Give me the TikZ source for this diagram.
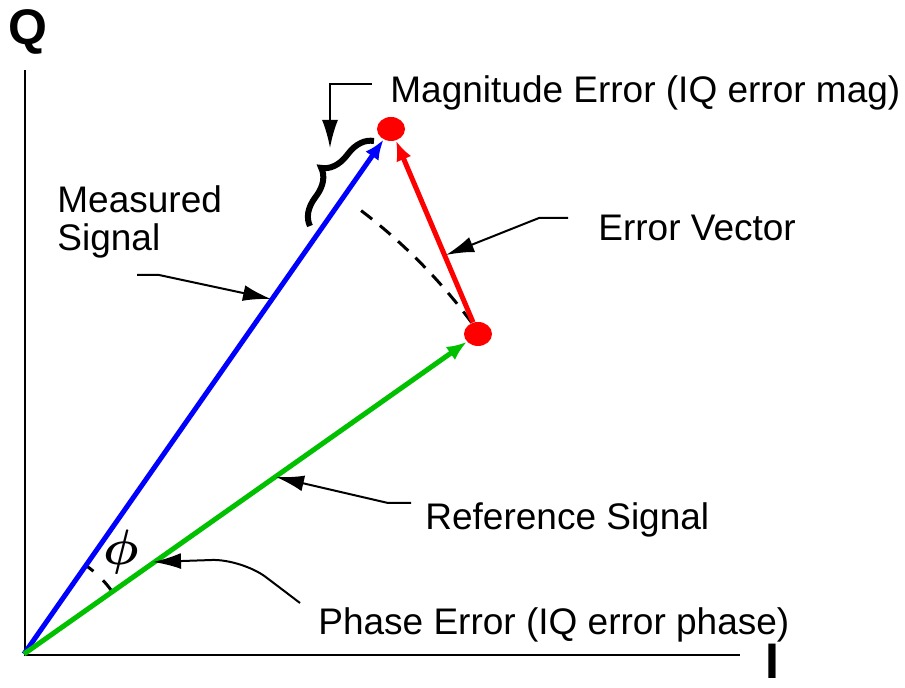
\documentclass[tikz,border=0pt]{standalone}
\usepackage{bm}
\usepackage{fontspec}
\setmainfont{Liberation Sans}
\usetikzlibrary{arrows.meta,shapes.geometric,decorations.pathreplacing}
\definecolor{vecblue}{HTML}{0000FF}
\definecolor{vecgreen}{HTML}{00C000}
\definecolor{vecred}{HTML}{FF0000}

\begin{document}
\begin{tikzpicture}[
  x=0.5pt,y=0.5pt,
  font=\fontsize{18.5pt}{19pt}\selectfont,
  txt/.style={inner sep=0pt,anchor=base west},
  axislabel/.style={inner sep=0pt,anchor=base,font=\fontsize{25pt}{25pt}\selectfont\bfseries},
  dot/.style={ellipse,fill=vecred,inner sep=0pt,minimum width=14pt,minimum height=12pt},
  vec/.style={-{Latex[length=10pt,width=8pt]},line width=2.5pt},
  lead/.style={-{Latex[length=14pt,width=8pt]},line width=1pt},
  axis/.style={line width=1pt},
  tick/.style={line width=1.5pt}
]
\useasboundingbox (-24,-34) rectangle (881,654);

\coordinate (O) at (0,0);
\coordinate (qtop) at (1,584);
\coordinate (corner) at (1,-1);
\coordinate (iend) at (716,-1);
\node[dot] (meas) at (367,525) {};
\node[dot] (ref) at (454,320) {};

\node[axislabel] (qlab) at (4,609) {Q};
\node[axislabel] (ilab) at (748,-25) {I};
\draw[axis] (qtop) -- (corner) -- (iend);

\draw[tick,dash pattern=on 7pt off 5pt] (O) ++(36.5:557) arc[start angle=36.5,end angle=53.5,radius=557];
\draw[tick] (O) ++(36:108) arc[start angle=36,end angle=43,radius=108];
\draw[tick] (O) ++(50:108) arc[start angle=50,end angle=55,radius=108];
\node[font=\fontsize{25pt}{25pt}\selectfont] (phi) at (97,102) {$\bm{\phi}$};

\draw[vec,vecblue] (O) -- (meas);
\draw[vec,vecgreen] (O) -- (ref);
\draw[vec,vecred] (ref) -- (meas);

\coordinate (brlo) at (286,428);
\coordinate (brhi) at (350,513);
\draw[line width=3pt,decorate,decoration={brace,amplitude=13pt}] (brlo) -- (brhi);

\node[txt] (magtxt) at (366,551) {Magnitude Error (IQ error mag)};
\node[txt,anchor=west,align=left] (meastxt) at (33,432) {Measured\\Signal};
\node[txt] (evtxt) at (574,413) {Error Vector};
\node[txt] (reftxt) at (401,124) {Reference Signal};
\node[txt] (phtxt) at (294,19) {Phase Error (IQ error phase)};

\coordinate (magbend) at (306,570);
\coordinate (magtip) at (306,506);
\coordinate (meastail) at (113,379);
\coordinate (measbend) at (135,379);
\coordinate (meastip) at (247,355);
\coordinate (evbend) at (515,436);
\coordinate (evtip) at (422,399);
\coordinate (refbend) at (364,151);
\coordinate (reftip) at (252,177);
\coordinate (phtail) at (276,51);
\coordinate (phbend) at (218,95);
\coordinate (phtip) at (129,92);

\draw[lead,shorten <=9pt] (magtxt.west |- magbend) -- (magbend) -- (magtip);
\draw[lead] (meastail) -- (measbend) -- (meastip);
\draw[lead,shorten <=15pt] (evtxt.west |- evbend) -- (evbend) -- (evtip);
\draw[lead,shorten <=7pt] (reftxt.west |- refbend) -- (refbend) -- (reftip);
\draw[lead,rounded corners=15pt] (phtail) -- (phbend) -- (phtip);
\end{tikzpicture}
\end{document}
